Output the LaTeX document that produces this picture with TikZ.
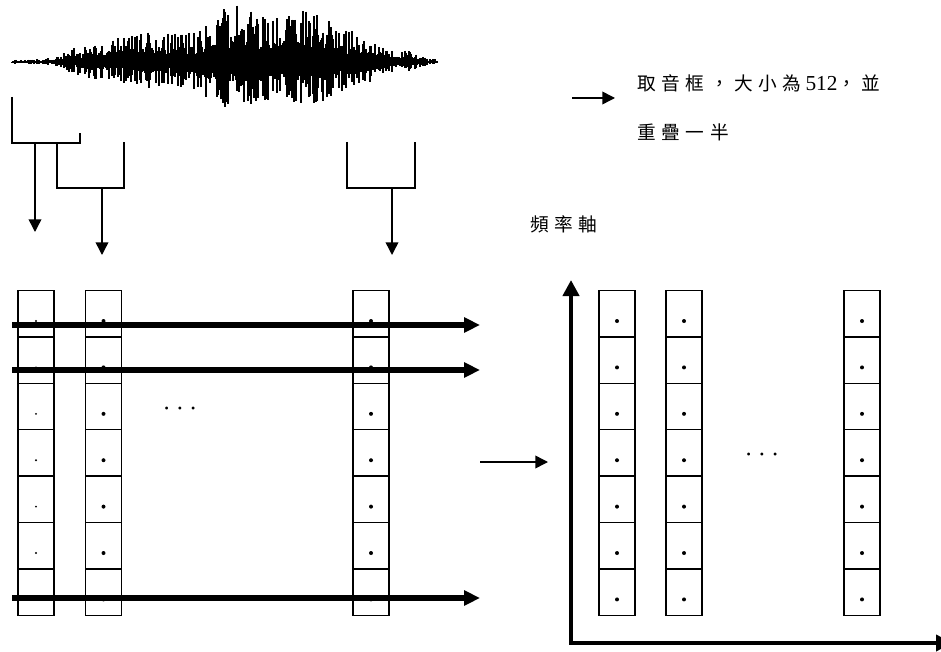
\documentclass[tikz,border=0pt]{standalone}
\usepackage{fontspec}
\setmainfont{Liberation Serif}
\newfontfamily\zhfont[LetterSpace=30]{Noto Sans CJK TC}
\usetikzlibrary{arrows.meta}

\begin{document}
\begin{tikzpicture}[x=0.75pt,y=-0.75pt,
  cell/.style={draw,line width=1pt,minimum width=27pt,minimum height=34.8pt,
    inner sep=0pt,outer sep=0pt},
  bracket/.style={line width=1pt},
  thinarrow/.style={line width=1.1pt,-{Triangle[length=9.5pt,width=9.5pt]}},
  bigarrow/.style={line width=3.8pt,-{Triangle[length=12pt,width=11pt]}},
  axes/.style={line width=3.2pt,line join=miter,
    {Triangle[length=12pt,width=12pt]}-{Triangle[length=12pt,width=12pt]}},
  wave/.style={line width=1.1pt},
  cjk/.style={font=\zhfont\fontsize{14}{16}\selectfont,inner sep=0pt},
  ell/.style={font=\fontsize{9}{9}\selectfont,inner sep=0pt}
]
\useasboundingbox (0,0) rectangle (941,652);

% speech waveform: random spikes under a syllable envelope
\pgfmathsetseed{4321}
\draw[line width=1pt] (12,62) -- (437,62);
\foreach \x in {12,...,437}{
  \pgfmathsetmacro\env{2
    + 35*exp(-min(((\x-240)/100)^2,20))
    + 12*exp(-min(((\x-85)/25)^2,20))
    + 15*exp(-min(((\x-135)/35)^2,20))
    + 20*exp(-min(((\x-235)/30)^2,20))
    + 30*exp(-min(((\x-315)/35)^2,20))
    + 15*exp(-min(((\x-365)/20)^2,20))
    + 8*exp(-min(((\x-405)/15)^2,20))}
  \pgfmathsetmacro\spk{rnd>0.5}
  \pgfmathsetmacro\wup{\env*max(\spk*(0.45+0.55*rnd),0.22+0.25*rnd)}
  \pgfmathsetmacro\wdn{\env*0.85*max(\spk*(0.45+0.55*rnd),0.22+0.25*rnd)}
  \draw[wave] (\x,62-\wup) -- (\x,62+\wdn);
}

% frame brackets
\draw[bracket] (12,97) |- (80,143) -- (80,133);
\draw[bracket] (57,143) |- (124,188) -- (124,142);
\draw[bracket] (347,142) |- (415,188) -- (415,142);

\coordinate (f1s) at (35,143);  \coordinate (f1e) at (35,232);
\coordinate (f2s) at (102,188); \coordinate (f2e) at (102,255);
\coordinate (f3s) at (392,188); \coordinate (f3e) at (392,255);
\draw[thinarrow] (f1s) -- (f1e);
\draw[thinarrow] (f2s) -- (f2e);
\draw[thinarrow] (f3s) -- (f3e);

% frame columns
\foreach \c/\cx in {L1/36,L2/103.5,L3/371,R1/617,R2/684,R3/862}{
  \foreach \r in {1,...,7}{
    \node[cell] (\c-\r) at (\cx,{290.5+46.4*(\r-0.5)}) {};
  }
}
\foreach \r in {1,...,7}{
  \fill ([yshift=-5.5pt]L1-\r.center) circle (0.8pt);
  \foreach \c in {L2,L3,R1,R2,R3}{
    \fill ([yshift=-5.5pt]\c-\r.center) circle (1.5pt);
  }
}

% ellipses between frames
\node[ell] (moreL) at (180,410) {\textbullet\hspace{6.8pt}\textbullet\hspace{6.8pt}\textbullet};
\node[ell] (moreR) at (762,456) {\textbullet\hspace{6.8pt}\textbullet\hspace{6.8pt}\textbullet};

% rows read across frames
\coordinate (h1s) at (12,325); \coordinate (h1e) at (480,325);
\coordinate (h2s) at (12,370); \coordinate (h2e) at (480,370);
\coordinate (h3s) at (12,598); \coordinate (h3e) at (480,598);
\draw[bigarrow] (h1s) -- (h1e);
\draw[bigarrow] (h2s) -- (h2e);
\draw[bigarrow] (h3s) -- (h3e);

% transform arrow
\coordinate (ms) at (480,462); \coordinate (me) at (548,462);
\draw[thinarrow] (ms) -- (me);

% axes
\coordinate (yend) at (571,280);
\coordinate (origin) at (571,643);
\coordinate (xend) at (952,643);
\draw[axes] (yend) -- (origin) -- (xend);

% labels
\node[cjk,anchor=base west] (frame) at (637,91)
  {取音框，大小為\hspace{3pt}{\rmfamily\fontsize{16}{16}\selectfont 512}，並};
\node[cjk,anchor=base west] (overlap) at (637,140) {重疊一半};
\node[cjk,anchor=base west] (freq) at (530,231) {頻率軸};
\coordinate (ls) at (572,98); \coordinate (le) at (615,98);
\draw[thinarrow] (ls) -- (le);
\end{tikzpicture}
\end{document}
